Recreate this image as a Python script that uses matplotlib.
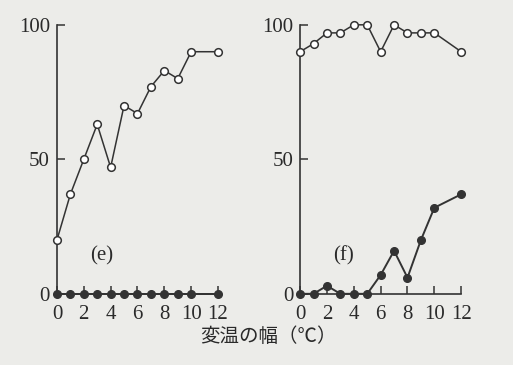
import numpy as np
import matplotlib
matplotlib.use('Agg')
import matplotlib.pyplot as plt

plt.rcParams['font.family'] = ['Liberation Serif', 'Noto Sans CJK JP']

# 変温の幅 (°C)
x_open = [0, 1, 2, 3, 4, 5, 6, 7, 8, 9, 10, 12]
x_fill = [0, 1, 2, 3, 4, 5, 6, 7, 8, 9, 10, 12]

# panel (e)
e_open = [20, 37, 50, 63, 47, 70, 67, 77, 83, 80, 90, 90]
e_fill = [0, 0, 0, 0, 0, 0, 0, 0, 0, 0, 0, 0]

# panel (f)
f_open = [90, 93, 97, 97, 100, 100, 90, 100, 97, 97, 97, 90]
f_fill = [0, 0, 3, 0, 0, 0, 7, 16, 6, 20, 32, 37]

xticks = [0, 2, 4, 6, 8, 10, 12]
yticks = [0, 50, 100]

bg = '#ecece9'
ink = '#333333'
txt = '#2a2a2a'

fig = plt.figure(figsize=(5.13, 3.65), dpi=100, facecolor=bg)

def panel(rect, yo, yf, tag, tagpos):
    ax = fig.add_axes(rect, facecolor=bg)
    ax.plot(x_open, yo, '-o', color=ink, lw=1.1, ms=5.5, mfc='white',
            mec=ink, mew=1.1, clip_on=False, zorder=3)
    ax.plot(x_fill, yf, '-o', color=ink, lw=1.4, ms=5.5, mfc=ink,
            mec=ink, clip_on=False, zorder=4)
    ax.set_xlim(0, 12)
    ax.set_ylim(0, 100)
    for s in ['top', 'right']:
        ax.spines[s].set_visible(False)
    for s in ['left', 'bottom']:
        ax.spines[s].set_color(ink)
        ax.spines[s].set_linewidth(1.2)
    ax.set_xticks(xticks)
    ax.set_yticks(yticks)
    ax.tick_params(direction='in', length=6, width=1.1, color=ink,
                   labelsize=15, labelcolor=txt)
    ax.tick_params(axis='y', pad=5)
    ax.tick_params(axis='x', pad=8)
    ax.text(tagpos[0], tagpos[1], tag, fontsize=15, color=txt,
            ha='center', va='center')
    return ax

panel([0.111, 0.195, 0.314, 0.737], e_open, e_fill, '(e)', (3.3, 14))
panel([0.585, 0.195, 0.314, 0.737], f_open, f_fill, '(f)', (3.2, 14))

fig.text(0.524, 0.077, '変温の幅（℃）', fontsize=14, color=txt,
         ha='center', va='center')

fig.savefig('out.png', dpi=100, facecolor=bg)
